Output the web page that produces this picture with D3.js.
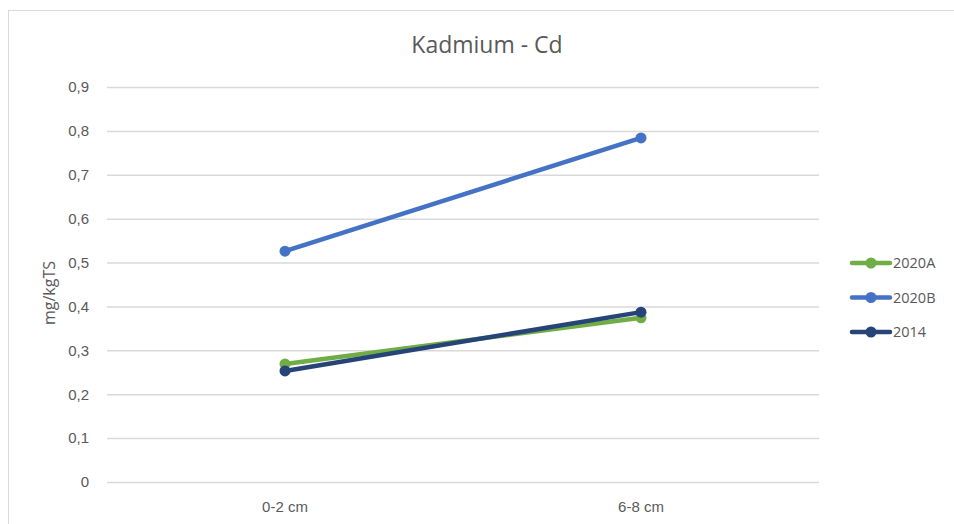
<!DOCTYPE html>
<html>
<head>
<meta charset="utf-8">
<script src="https://cdn.jsdelivr.net/npm/d3@7"></script>
<style>
  html, body { margin: 0; padding: 0; background: #fff; }
  svg { display: block; font-family: "Open Sans", "Noto Sans", sans-serif; }
</style>
</head>
<body>
<svg id="chart" width="954" height="524"></svg>
<script>
// Cadmium content by sampling depth
const categories = ["0-2 cm", "6-8 cm"];
const seriesNames = ["2020A", "2020B", "2014"];
const values2020A = [0.269, 0.374];
const values2020B = [0.526, 0.784];
const values2014 = [0.253, 0.387];
const yTicks = [0, 0.1, 0.2, 0.3, 0.4, 0.5, 0.6, 0.7, 0.8, 0.9];
const colors = ["#70AD47", "#4472C4", "#264478"];

const series = [
  { name: seriesNames[0], values: values2020A, color: colors[0] },
  { name: seriesNames[1], values: values2020B, color: colors[1] },
  { name: seriesNames[2], values: values2014, color: colors[2] }
];

const svg = d3.select("#chart");
const W = 954, H = 524;
const margin = { left: 107, right: 954 - 819, top: 87, bottom: 524 - 482 };

// chart frame
svg.append("rect")
  .attr("x", 8.5).attr("y", 10.5)
  .attr("width", 960).attr("height", 540)
  .attr("fill", "#fff").attr("stroke", "#d9d9d9").attr("stroke-width", 1);

const x = d3.scaleBand().domain(categories).range([margin.left, W - margin.right]);
const y = d3.scaleLinear().domain([0, 0.9]).range([H - margin.bottom, margin.top]);

const fmt = v => v === 0 ? "0" : d3.format(".1f")(v).replace(".", ",");

// horizontal gridlines with value labels
const yAxis = d3.axisLeft(y).tickValues(yTicks).tickFormat(fmt)
  .tickSize(-(W - margin.left - margin.right)).tickPadding(18);
const gy = svg.append("g").attr("transform", `translate(${margin.left},0)`).call(yAxis);
gy.select(".domain").remove();
gy.selectAll(".tick line").attr("stroke", "#d9d9d9").attr("stroke-width", 1.5);
gy.selectAll(".tick text").attr("fill", "#595959").attr("font-size", 15);

// category labels
const xAxis = d3.axisBottom(x).tickSize(0).tickPadding(19);
const gx = svg.append("g").attr("transform", `translate(0,${H - margin.bottom})`).call(xAxis);
gx.select(".domain").remove();
gx.selectAll(".tick text").attr("fill", "#595959").attr("font-size", 15);

// title
svg.append("text")
  .attr("x", 487).attr("y", 53)
  .attr("text-anchor", "middle")
  .attr("fill", "#595959").attr("font-size", 23)
  .text("Kadmium - Cd");

// y axis title
svg.append("text")
  .attr("transform", "translate(55,293) rotate(-90)")
  .attr("text-anchor", "middle")
  .attr("fill", "#595959").attr("font-size", 16)
  .text("mg/kgTS");

const cx = c => x(c) + x.bandwidth() / 2;
const line = d3.line().x((d, i) => cx(categories[i])).y(d => y(d));

const gs = svg.append("g").selectAll("g").data(series).join("g");
gs.append("path")
  .attr("d", d => line(d.values))
  .attr("fill", "none")
  .attr("stroke", d => d.color)
  .attr("stroke-width", 4.5)
  .attr("stroke-linecap", "round");
gs.selectAll("circle")
  .data(d => d.values.map((v, i) => ({ v, i, color: d.color })))
  .join("circle")
  .attr("cx", d => cx(categories[d.i]))
  .attr("cy", d => y(d.v))
  .attr("r", 5.5)
  .attr("fill", d => d.color);

// legend
const legend = svg.append("g").selectAll("g").data(series).join("g")
  .attr("transform", (d, i) => `translate(850,${263 + i * 34.5})`);
legend.append("line")
  .attr("x1", 2).attr("x2", 40)
  .attr("stroke", d => d.color).attr("stroke-width", 4.5)
  .attr("stroke-linecap", "round");
legend.append("circle").attr("cx", 21).attr("r", 5.5).attr("fill", d => d.color);
legend.append("text")
  .attr("x", 43).attr("dy", "0.35em")
  .attr("fill", "#595959").attr("font-size", 14.5)
  .text(d => d.name);
</script>
</body>
</html>
